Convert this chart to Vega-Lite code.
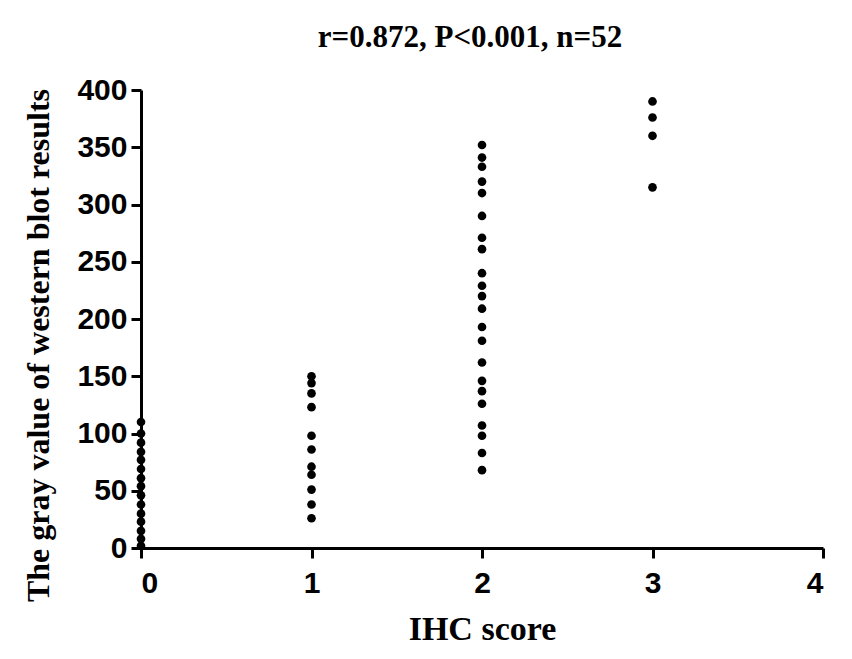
{
  "$schema": "https://vega.github.io/schema/vega-lite/v6.json",
  "width": 682,
  "height": 458,
  "autosize": {"type": "none"},
  "padding": {"left": 141, "top": 90, "right": 29, "bottom": 111},
  "background": "white",
  "title": {
    "text": "r=0.872, P<0.001, n=52",
    "font": "Liberation Serif",
    "fontSize": 31,
    "fontWeight": "bold",
    "color": "black",
    "anchor": "middle",
    "offset": 21,
    "dx": -12
  },
  "data": {
    "values": [
      {"score": 0, "gray": 110}, {"score": 0, "gray": 100}, {"score": 0, "gray": 92}, {"score": 0, "gray": 84},
      {"score": 0, "gray": 77}, {"score": 0, "gray": 69}, {"score": 0, "gray": 61}, {"score": 0, "gray": 54},
      {"score": 0, "gray": 46}, {"score": 0, "gray": 38}, {"score": 0, "gray": 30}, {"score": 0, "gray": 23},
      {"score": 0, "gray": 15}, {"score": 0, "gray": 8}, {"score": 0, "gray": 2},
      {"score": 1, "gray": 150}, {"score": 1, "gray": 144}, {"score": 1, "gray": 135}, {"score": 1, "gray": 123},
      {"score": 1, "gray": 98}, {"score": 1, "gray": 86}, {"score": 1, "gray": 71}, {"score": 1, "gray": 64},
      {"score": 1, "gray": 51}, {"score": 1, "gray": 38}, {"score": 1, "gray": 26},
      {"score": 2, "gray": 352}, {"score": 2, "gray": 341}, {"score": 2, "gray": 333}, {"score": 2, "gray": 320},
      {"score": 2, "gray": 310}, {"score": 2, "gray": 290}, {"score": 2, "gray": 271}, {"score": 2, "gray": 261},
      {"score": 2, "gray": 240}, {"score": 2, "gray": 229}, {"score": 2, "gray": 220}, {"score": 2, "gray": 209},
      {"score": 2, "gray": 193}, {"score": 2, "gray": 181}, {"score": 2, "gray": 162}, {"score": 2, "gray": 146},
      {"score": 2, "gray": 137}, {"score": 2, "gray": 126}, {"score": 2, "gray": 107}, {"score": 2, "gray": 98},
      {"score": 2, "gray": 83}, {"score": 2, "gray": 68},
      {"score": 3, "gray": 390}, {"score": 3, "gray": 376}, {"score": 3, "gray": 360}, {"score": 3, "gray": 315}
    ]
  },
  "mark": {"type": "circle", "color": "black", "opacity": 1, "size": 75},
  "encoding": {
    "x": {
      "field": "score", "type": "quantitative",
      "scale": {"domain": [0, 4], "nice": false, "zero": true},
      "axis": {
        "title": "IHC score", "values": [0, 1, 2, 3, 4], "format": "d",
        "grid": false, "domainColor": "black", "domainWidth": 3,
        "tickColor": "black", "tickWidth": 3, "tickSize": 10,
        "labelFont": "Liberation Sans", "labelFontSize": 30, "labelFontWeight": "bold", "labelColor": "black",
        "labelPadding": 10,
        "titleFont": "Liberation Serif", "titleFontSize": 34, "titleFontWeight": "bold", "titleColor": "black",
        "titlePadding": 14
      }
    },
    "y": {
      "field": "gray", "type": "quantitative",
      "scale": {"domain": [0, 400], "nice": false},
      "axis": {
        "title": "The gray value of western blot results", "values": [0, 50, 100, 150, 200, 250, 300, 350, 400],
        "grid": false, "domainColor": "black", "domainWidth": 3,
        "tickColor": "black", "tickWidth": 3, "tickSize": 10,
        "labelFont": "Liberation Sans", "labelFontSize": 30, "labelFontWeight": "bold", "labelColor": "black",
        "labelPadding": 4,
        "titleFont": "Liberation Serif", "titleFontSize": 32, "titleFontWeight": "bold", "titleColor": "black",
        "titlePadding": 21,
        "titleY": 255
      }
    }
  },
  "config": {"view": {"stroke": null}}
}
